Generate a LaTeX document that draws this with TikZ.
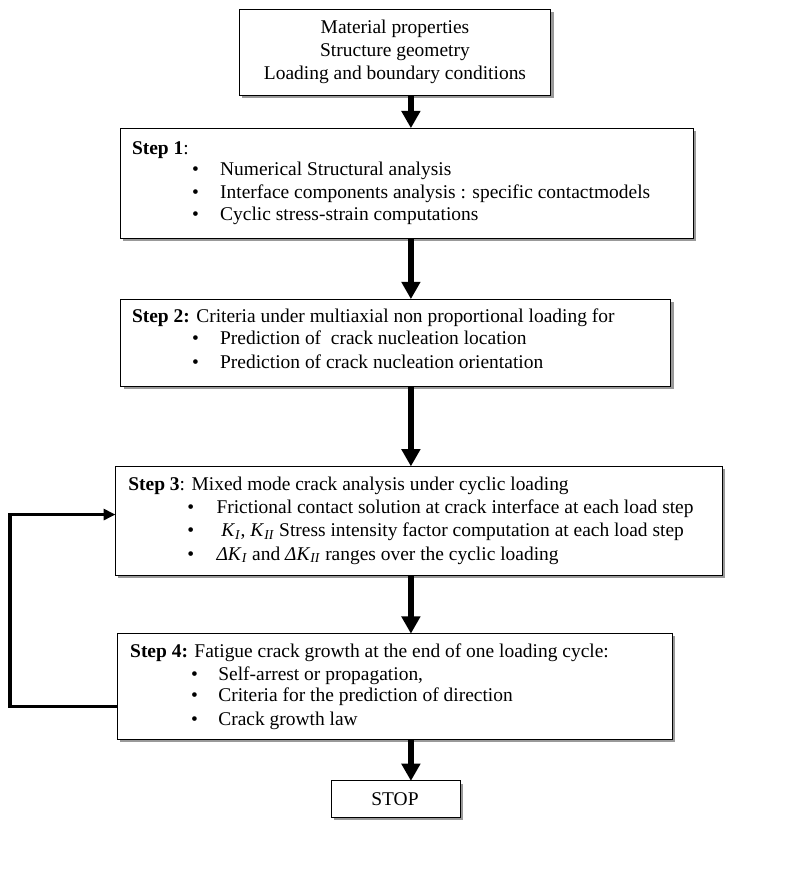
\documentclass[tikz,border=0pt]{standalone}
\usepackage{fontspec}
\setmainfont{Liberation Serif}
\usetikzlibrary{arrows.meta,shadows}
\begin{document}
\begin{tikzpicture}[x=1pt,y=-1pt,
  box/.style={draw=black, line width=1.1pt, fill=white, inner sep=0pt, outer sep=0pt, anchor=north west,
    drop shadow={shadow xshift=3pt, shadow yshift=-3pt, fill=black!40, opacity=1}},
  txt/.style={inner sep=0pt, anchor=base west, font=\fontsize{21.4}{25}\selectfont},
  ctxt/.style={txt, anchor=base},
  flow/.style={line width=6pt, -{Triangle[length=19pt, width=20pt]}},
  back/.style={line width=4pt, -{Triangle[length=13pt, width=12pt]}}]
\useasboundingbox (0,0) rectangle (871.2,985.6);
\newcommand{\bul}[2]{\makebox[#1][l]{\textbullet}#2}
% boxes
\node[box, minimum width=343pt, minimum height=95pt] (top) at (263,10) {};
\node[box, minimum width=631pt, minimum height=121pt] (s1) at (132,141) {};
\node[box, minimum width=605pt, minimum height=96pt] (s2) at (133,329) {};
\node[box, minimum width=668pt, minimum height=120pt] (s3) at (127,513) {};
\node[box, minimum width=611pt, minimum height=116pt] (s4) at (129,697) {};
\node[box, minimum width=141.5pt, minimum height=40pt] (stop) at (364.5,859) {};
% texts
\node[ctxt] (t1) at (434.5,37) {Material properties};
\node[ctxt] (t2) at (434.5,62) {Structure geometry};
\node[ctxt] (t3) at (434.5,87) {Loading and boundary conditions};
\node[txt] (a0) at (145,170) {\textbf{Step 1}:};
\node[txt] (a1) at (211,193) {\bul{31pt}{Numerical Structural analysis}};
\node[txt] (a2) at (211,218) {\bul{31pt}{Interface components analysis : specific contactmodels}};
\node[txt] (a3) at (211,243) {\bul{31pt}{Cyclic stress-strain computations}};
\node[txt] (b0) at (145,355) {\textbf{Step 2:} Criteria under multiaxial non proportional loading for};
\node[txt] (b1) at (211,379) {\bul{31pt}{Prediction of\ \ crack nucleation location}};
\node[txt] (b2) at (211,405) {\bul{31pt}{Prediction of crack nucleation orientation}};
\node[txt] (c0) at (141,540) {\textbf{Step 3}: Mixed mode crack analysis under cyclic loading};
\node[txt] (c1) at (206,565) {\bul{32pt}{Frictional contact solution at crack interface at each load step}};
\node[txt] (c2) at (206,590) {\bul{32pt}{\ \textit{K}\textsubscript{\textit{I}}, \textit{K}\textsubscript{\textit{II}} Stress intensity factor computation at each load step}};
\node[txt] (c3) at (206,616) {\bul{32pt}{\textit{ΔK}\textsubscript{\textit{I}} and \textit{ΔK}\textsubscript{\textit{II}} ranges over the cyclic loading}};
\node[txt] (d0) at (143,723) {\textbf{Step 4:} Fatigue crack growth at the end of one loading cycle:};
\node[txt] (d1) at (210,748) {\bul{30pt}{Self-arrest or propagation,}};
\node[txt] (d2) at (210,772) {\bul{30pt}{Criteria for the prediction of direction}};
\node[txt] (d3) at (210,798) {\bul{30pt}{Crack growth law}};
\node[ctxt] (st) at (434.5,886) {STOP};
% connectors
\coordinate (ax) at (452,0);
\coordinate (fb1) at (11,777);
\coordinate (fb2) at (11,566);
\draw[flow] (ax |- top.south) -- (ax |- s1.north);
\draw[flow] (ax |- s1.south) -- (ax |- s2.north);
\draw[flow] (ax |- s2.south) -- (ax |- s3.north);
\draw[flow] (ax |- s3.south) -- (ax |- s4.north);
\draw[flow] (ax |- s4.south) -- (ax |- stop.north);
\draw[back] (s4.west |- fb1) -- (fb1) -- (fb2) -- (s3.west |- fb2);
\end{tikzpicture}
\end{document}
